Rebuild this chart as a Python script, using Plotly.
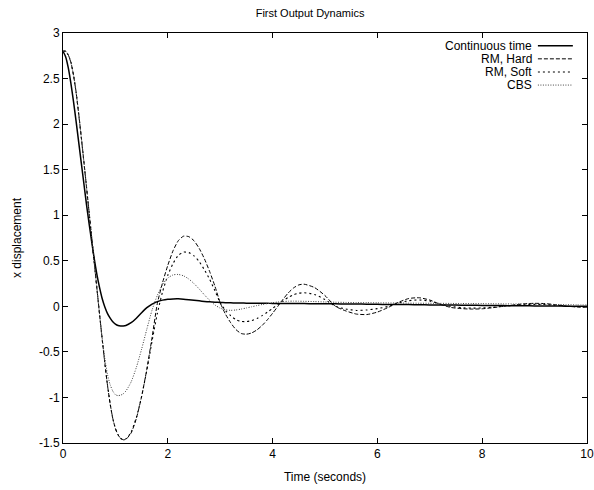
import plotly.graph_objects as go

# ---- data ----
T = [0, 0.05, 0.1, 0.15, 0.2, 0.25, 0.3, 0.35, 0.4, 0.45, 0.5, 0.55, 0.6, 0.65, 0.7, 0.75,
     0.8, 0.85, 0.9, 0.95, 1.0, 1.05, 1.1, 1.15, 1.2,
     1.3, 1.4, 1.5, 1.6, 1.7, 1.8, 1.9, 2.0, 2.1, 2.2, 2.3, 2.4, 2.5, 2.6, 2.7, 2.8, 2.9,
     3.0, 3.1, 3.2, 3.3, 3.4, 3.5, 3.6, 3.7, 3.8, 3.9, 4.0, 4.1, 4.2, 4.3, 4.4, 4.5, 4.6,
     4.8, 5.0, 5.2, 5.4, 5.6, 5.8, 6.0, 6.2, 6.4, 6.6, 6.8, 7.0, 7.2, 7.4, 7.6, 7.8,
     8.0, 8.2, 8.4, 8.6, 8.8, 9.0, 9.2, 9.4, 9.6, 9.8, 10.0]

continuous_time = [2.80, 2.74, 2.62, 2.45, 2.25, 2.03, 1.80, 1.57, 1.34, 1.11, 0.90, 0.70, 0.51, 0.34, 0.20, 0.08,
                   -0.01, -0.08, -0.13, -0.17, -0.195, -0.21, -0.215, -0.215, -0.21,
                   -0.18, -0.13, -0.07, -0.015, 0.025, 0.052, 0.068, 0.077, 0.081, 0.082, 0.079, 0.073, 0.066, 0.06, 0.054, 0.049, 0.045,
                   0.042, 0.04, 0.038, 0.037, 0.036, 0.035, 0.034, 0.034, 0.033, 0.033, 0.032, 0.032, 0.031, 0.031, 0.031, 0.03, 0.03,
                   0.029, 0.028, 0.027, 0.026, 0.025, 0.024, 0.022, 0.021, 0.02, 0.019, 0.018, 0.016, 0.015, 0.014, 0.013, 0.012,
                   0.01, 0.009, 0.008, 0.007, 0.006, 0.005, 0.004, 0.003, 0.002, 0.001, 0.0]

rm_hard = [2.80, 2.80, 2.76, 2.68, 2.54, 2.35, 2.11, 1.85, 1.58, 1.30, 1.02, 0.74, 0.46, 0.18, -0.10, -0.37,
           -0.63, -0.87, -1.07, -1.23, -1.34, -1.41, -1.45, -1.465, -1.46,
           -1.39, -1.23, -0.99, -0.69, -0.34, 0.03, 0.26, 0.45, 0.61, 0.72, 0.77, 0.765, 0.72, 0.635, 0.52, 0.38, 0.22,
           0.04, -0.085, -0.18, -0.255, -0.298, -0.306, -0.292, -0.259, -0.21, -0.148, -0.076, 0.0, 0.078, 0.148, 0.202, 0.235, 0.243,
           0.206, 0.118, 0.0, -0.051, -0.085, -0.09, -0.063, -0.014, 0.044, 0.086, 0.094, 0.069, 0.022, -0.012, -0.025, -0.03,
           -0.027, -0.015, 0.0, 0.015, 0.028, 0.033, 0.03, 0.018, 0.003, -0.007, -0.01]

rm_soft = [2.80, 2.80, 2.76, 2.68, 2.54, 2.35, 2.11, 1.85, 1.58, 1.30, 1.02, 0.74, 0.46, 0.18, -0.10, -0.37,
           -0.63, -0.87, -1.07, -1.23, -1.34, -1.41, -1.45, -1.46, -1.455,
           -1.38, -1.22, -0.99, -0.70, -0.38, -0.08, 0.16, 0.34, 0.47, 0.56, 0.595, 0.59, 0.554, 0.49, 0.40, 0.295, 0.17,
           0.04, -0.045, -0.103, -0.146, -0.166, -0.168, -0.156, -0.133, -0.102, -0.064, -0.022, 0.02, 0.062, 0.098, 0.126, 0.144, 0.15,
           0.13, 0.075, 0.0, -0.03, -0.045, -0.04, -0.025, -0.002, 0.035, 0.062, 0.07, 0.058, 0.025, 0.0, -0.015, -0.02,
           -0.018, -0.01, 0.0, 0.01, 0.018, 0.022, 0.02, 0.012, 0.003, -0.004, -0.006]

cbs = [2.80, 2.80, 2.76, 2.68, 2.54, 2.35, 2.11, 1.85, 1.58, 1.30, 1.02, 0.74, 0.46, 0.18, -0.10, -0.36,
       -0.58, -0.75, -0.86, -0.93, -0.97, -0.98, -0.975, -0.96, -0.93,
       -0.83, -0.67, -0.47, -0.25, -0.04, 0.12, 0.24, 0.31, 0.345, 0.35, 0.335, 0.30, 0.25, 0.19, 0.125, 0.065, 0.015,
       -0.02, -0.038, -0.044, -0.04, -0.03, -0.018, -0.005, 0.008, 0.02, 0.03, 0.04, 0.047, 0.053, 0.056, 0.057, 0.056, 0.055,
       0.052, 0.048, 0.045, 0.043, 0.041, 0.04, 0.038, 0.037, 0.036, 0.035, 0.034, 0.034, 0.033, 0.032, 0.031, 0.03,
       0.029, 0.028, 0.027, 0.026, 0.025, 0.024, 0.022, 0.02, 0.018, 0.016, 0.015]

SERIES_NAMES = ["Continuous time", "RM, Hard", "RM, Soft", "CBS"]
X_TICKS = [0, 2, 4, 6, 8, 10]
Y_TICKS = [-1.5, -1, -0.5, 0, 0.5, 1, 1.5, 2, 2.5, 3]
Y_TICK_LABELS = ["-1.5", "-1", "-0.5", "0", "0.5", "1", "1.5", "2", "2.5", "3"]

# ---- styles ----
FONT = "Liberation Sans, Arial, Helvetica, sans-serif"
styles = [
    dict(color="black", width=1.5, dash="solid"),
    dict(color="black", width=1.0, dash="4px,2px"),
    dict(color="black", width=1.1, dash="2px,3px"),
    dict(color="#444444", width=1.0, dash="1px,1.5px"),
]
series = [continuous_time, rm_hard, rm_soft, cbs]

fig = go.Figure()
for name, ys, st in zip(SERIES_NAMES, series, styles):
    fig.add_trace(go.Scatter(x=T, y=ys, mode="lines", name=name,
                             line=dict(color=st["color"], width=st["width"], dash=st["dash"],
                                       shape="spline", smoothing=0.6),
                             showlegend=False, hoverinfo="skip"))

# gnuplot-style key: text right-aligned, sample line to its right
key_rows_y = [0.969, 0.937, 0.905, 0.873]
for name, st, ky in zip(SERIES_NAMES, styles, key_rows_y):
    fig.add_annotation(xref="paper", yref="paper", x=0.8967, y=ky, text=name,
                       showarrow=False, xanchor="right", yanchor="middle", borderpad=0,
                       font=dict(family=FONT, size=12, color="black"))
    fig.add_shape(type="line", xref="paper", yref="paper", x0=0.9063, x1=0.973, y0=ky, y1=ky,
                  line=dict(color=st["color"], width=st["width"], dash=st["dash"]))

axis_common = dict(showline=True, linecolor="black", linewidth=1, mirror="ticks",
                   ticks="inside", ticklen=5, tickcolor="black", tickwidth=1,
                   showgrid=False, zeroline=False, automargin=False,
                   ticklabeloverflow="allow",
                   tickfont=dict(family=FONT, size=12, color="black"))

fig.update_layout(
    template="none",
    width=594, height=490,
    margin=dict(l=63, r=7, t=33, b=47, autoexpand=False),
    paper_bgcolor="white", plot_bgcolor="white",
    title=dict(text="First Output Dynamics", x=0.522, xanchor="center", y=0.973, yanchor="middle",
               xref="container", yref="container",
               font=dict(family=FONT, size=11, color="black")),
    xaxis=dict(range=[0, 10], tickvals=X_TICKS,
               title=dict(text="Time (seconds)", font=dict(family=FONT, size=12, color="black"), standoff=12),
               **axis_common),
    yaxis=dict(range=[-1.5, 3], tickvals=Y_TICKS, ticktext=Y_TICK_LABELS,
               title=dict(text="x displacement", font=dict(family=FONT, size=12, color="black"), standoff=14),
               **axis_common),
    showlegend=False,
)

# the page's default 8px body margin would shift the figure; remove it
fig.write_html("out.html", config={"displayModeBar": False},
               post_script="document.body.style.margin='0px';")
